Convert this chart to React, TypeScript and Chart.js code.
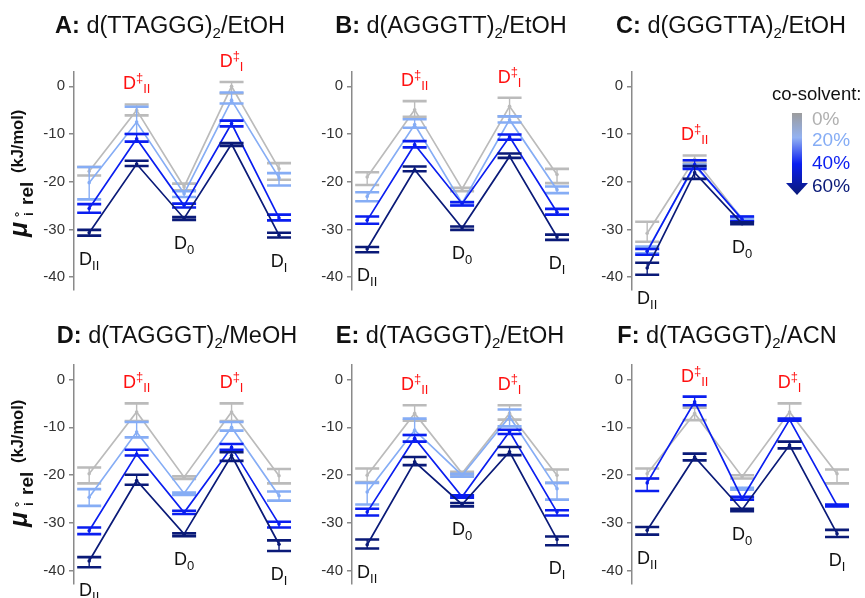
import React, { useEffect, useRef } from 'react';
import { Chart, registerables } from 'chart.js';
Chart.register(...registerables);

const FONT = "'Liberation Sans', Arial, Helvetica, sans-serif";
Chart.defaults.font.family = FONT;

// ---------- data ----------
const SERIES_LABELS = ['0%', '20%', '40%', '60%'];
const SERIES_COLORS = ['#bbbbbb', '#86adf5', '#0a1ef0', '#0a1a78'];
const Y_TICKS = [0, -10, -20, -30, -40];
// states: D_II, D‡_II, D_0, D‡_I, D_I
const STATE_LABELS = [
  { main: 'D', sub: 'II' },
  { main: 'D', sup: '‡', sub: 'II' },
  { main: 'D', sub: '0' },
  { main: 'D', sup: '‡', sub: 'I' },
  { main: 'D', sub: 'I' },
];

const A_MEAN = [
  [-17.8, -5.0, -21.1, 0.0, -17.3],
  [-20.2, -7.5, -22.5, -2.9, -19.2],
  [-25.6, -11.0, -25.0, -7.8, -27.6],
  [-30.7, -16.3, -27.7, -12.1, -31.2],
];
const A_HI = [
  [-16.9, -3.8, -20.4, 0.9, -16.1],
  [-16.9, -4.3, -22.0, -1.3, -18.2],
  [-24.7, -10.0, -24.6, -7.2, -26.9],
  [-30.1, -15.6, -27.4, -11.9, -30.7],
];
const A_LO = [
  [-18.7, -6.1, -21.8, -1.5, -19.6],
  [-23.7, -10.0, -23.2, -3.6, -20.8],
  [-26.5, -11.6, -25.4, -8.4, -28.1],
  [-31.3, -16.7, -28.0, -12.5, -31.7],
];

const B_MEAN = [
  [-19.0, -4.9, -21.5, -4.2, -18.5],
  [-23.1, -8.0, -24.5, -7.0, -21.7],
  [-28.1, -12.2, -24.6, -10.6, -26.4],
  [-34.1, -17.5, -29.7, -14.7, -31.6],
];
const B_HI = [
  [-18.0, -3.1, -21.3, -2.4, -17.3],
  [-22.2, -6.9, -24.2, -6.3, -21.0],
  [-27.3, -11.5, -24.3, -10.1, -25.7],
  [-33.7, -16.8, -29.4, -14.1, -31.1],
];
const B_LO = [
  [-20.7, -6.4, -22.0, -6.3, -20.3],
  [-24.1, -8.7, -24.9, -7.6, -22.4],
  [-28.8, -12.8, -25.0, -11.2, -26.9],
  [-34.8, -17.8, -30.1, -15.0, -32.2],
];

const C_MEAN = [
  [-30.8, -15.3, -27.8],
  [-34.4, -16.7, -27.6],
  [-34.6, -16.4, -27.9],
  [-38.1, -18.1, -28.8],
];
const C_HI = [
  [-28.4, -14.5, -27.5],
  [-33.6, -16.4, -27.3],
  [-34.1, -15.5, -27.3],
  [-37.0, -16.7, -28.5],
];
const C_LO = [
  [-32.6, -16.0, -28.1],
  [-35.0, -17.1, -27.9],
  [-35.3, -17.3, -28.3],
  [-39.5, -19.4, -28.9],
];

const D_MEAN = [
  [-19.7, -6.8, -20.4, -6.8, -20.1],
  [-24.6, -11.0, -23.8, -10.0, -24.3],
  [-31.6, -15.6, -27.8, -14.2, -30.2],
  [-37.9, -21.1, -32.3, -15.9, -34.4],
];
const D_HI = [
  [-18.4, -5.0, -20.2, -5.0, -18.7],
  [-22.9, -8.9, -23.6, -8.9, -23.4],
  [-30.9, -14.7, -27.4, -13.5, -29.7],
  [-37.1, -19.9, -32.1, -15.2, -33.6],
];
const D_LO = [
  [-21.7, -8.7, -20.8, -8.7, -21.7],
  [-26.4, -12.1, -24.1, -10.7, -25.3],
  [-32.3, -15.9, -28.1, -14.7, -30.9],
  [-39.2, -22.0, -32.7, -17.0, -35.8],
];

const E_MEAN = [
  [-20.0, -7.1, -19.6, -7.1, -20.0],
  [-23.5, -10.6, -20.0, -7.8, -22.8],
  [-27.7, -12.3, -24.5, -10.9, -27.7],
  [-34.5, -17.2, -26.1, -15.1, -33.4],
];
const E_HI = [
  [-18.6, -5.4, -19.3, -5.4, -18.8],
  [-21.6, -8.2, -19.7, -6.3, -21.6],
  [-27.0, -11.6, -24.2, -10.5, -27.3],
  [-33.4, -16.2, -25.8, -14.1, -32.8],
];
const E_LO = [
  [-21.4, -8.6, -19.9, -8.4, -21.6],
  [-26.1, -11.6, -20.3, -9.8, -25.1],
  [-28.4, -13.0, -24.7, -11.4, -28.4],
  [-35.3, -17.9, -26.5, -15.8, -34.6],
];

const F_MEAN = [
  [-19.7, -7.1, -20.3, -6.8, -19.7],
  [null, null, -22.8, null, null],
  [-21.6, -4.7, -24.9, -8.4, -26.3],
  [-31.5, -16.2, -27.2, -13.7, -32.2],
];
const F_HI = [
  [-18.6, -5.9, -20.0, -5.0, -18.8],
  [null, null, -22.6, null, null],
  [-20.7, -3.6, -24.5, -8.2, -26.1],
  [-30.8, -15.5, -27.0, -13.0, -31.4],
];
const F_LO = [
  [-20.7, -8.5, -20.7, -8.5, -21.7],
  [null, null, -23.0, null, null],
  [-23.3, -5.4, -25.1, -8.6, -26.5],
  [-32.4, -16.9, -27.5, -14.4, -32.9],
];

// ---------- layout ----------
const W = 865;
const H = 598;
const Y_MIN = -42.7;
const Y_MAX = 3;
const X_MIN = -0.32;
const X_MAX = 4.4;
const AREA_W = 224;
const SCALE_W = 45;
const CAP_HALF = 12;
const ROWS = [
  { top: 72, bottom: 290, titleY: 33, yTitleStart: 237 },
  { top: 365, bottom: 584, titleY: 343, yTitleStart: 527 },
];

type Num = number | null;
type Panel = {
  letter: string; seq: string; solvent: string;
  mean: Num[][]; hi: Num[][]; lo: Num[][];
  axisX: number; row: number; titleX: number; yTitle: boolean; legend: boolean;
};

const PANELS: Panel[] = [
  { letter: 'A:', seq: ' d(TTAGGG)', solvent: '/EtOH', mean: A_MEAN, hi: A_HI, lo: A_LO, axisX: 74, row: 0, titleX: 170, yTitle: true, legend: false },
  { letter: 'B:', seq: ' d(AGGGTT)', solvent: '/EtOH', mean: B_MEAN, hi: B_HI, lo: B_LO, axisX: 352, row: 0, titleX: 451, yTitle: false, legend: false },
  { letter: 'C:', seq: ' d(GGGTTA)', solvent: '/EtOH', mean: C_MEAN, hi: C_HI, lo: C_LO, axisX: 632, row: 0, titleX: 731, yTitle: false, legend: true },
  { letter: 'D:', seq: ' d(TAGGGT)', solvent: '/MeOH', mean: D_MEAN, hi: D_HI, lo: D_LO, axisX: 74, row: 1, titleX: 177, yTitle: true, legend: false },
  { letter: 'E:', seq: ' d(TAGGGT)', solvent: '/EtOH', mean: E_MEAN, hi: E_HI, lo: E_LO, axisX: 352, row: 1, titleX: 450, yTitle: false, legend: false },
  { letter: 'F:', seq: ' d(TAGGGT)', solvent: '/ACN', mean: F_MEAN, hi: F_HI, lo: F_LO, axisX: 632, row: 1, titleX: 727, yTitle: false, legend: false },
];

// ---------- rich text ----------
type Seg = { t: string; size: number; bold?: boolean; italic?: boolean; dy?: number };
const fontOf = (s: Seg) => `${s.italic ? 'italic ' : ''}${s.bold ? 'bold ' : ''}${s.size}px ${FONT}`;

function drawSegs(ctx: CanvasRenderingContext2D, segs: Seg[], x: number, y: number, align: 'left' | 'center', color: string) {
  const widths = segs.map((s) => { ctx.font = fontOf(s); return ctx.measureText(s.t).width; });
  const total = widths.reduce((a, b) => a + b, 0);
  let cx = align === 'center' ? x - total / 2 : x;
  ctx.fillStyle = color;
  ctx.textAlign = 'left';
  ctx.textBaseline = 'alphabetic';
  segs.forEach((s, i) => {
    ctx.font = fontOf(s);
    ctx.fillText(s.t, cx, y + (s.dy || 0));
    cx += widths[i];
  });
}

function drawYTitle(ctx: CanvasRenderingContext2D, startY: number) {
  ctx.save();
  ctx.translate(23, startY);
  ctx.rotate(-Math.PI / 2);
  ctx.fillStyle = '#111';
  ctx.textAlign = 'left';
  ctx.textBaseline = 'alphabetic';
  ctx.font = `italic bold 25px ${FONT}`;
  ctx.fillText('μ', 0, 4);
  ctx.font = `bold 13px ${FONT}`;
  ctx.fillText('°', 20, 1);
  ctx.fillText('i', 21, 10);
  ctx.font = `bold 19px ${FONT}`;
  ctx.fillText('rel', 32, 10);
  ctx.font = `bold 16.5px ${FONT}`;
  ctx.fillText('(kJ/mol)', 64, 0);
  ctx.restore();
}

function makePlugin(p: Panel) {
  return {
    id: 'deco',
    afterDatasetDraw(chart: any, args: any) {
      const s = args.index;
      const ctx: CanvasRenderingContext2D = chart.ctx;
      const xs = chart.scales.x;
      const ys = chart.scales.y;
      const m = p.mean[s];
      ctx.save();
      ctx.strokeStyle = SERIES_COLORS[s];
      ctx.lineCap = 'butt';
      m.forEach((v, i) => {
        const hi = p.hi[s][i];
        const lo = p.lo[s][i];
        if (v == null || hi == null || lo == null) return;
        const x = xs.getPixelForValue(i);
        const yh = ys.getPixelForValue(hi);
        const yl = ys.getPixelForValue(lo);
        ctx.lineWidth = 1.4;
        ctx.beginPath(); ctx.moveTo(x, yh); ctx.lineTo(x, yl); ctx.stroke();
        ctx.lineWidth = 2.6;
        ctx.beginPath();
        ctx.moveTo(x - CAP_HALF, yh); ctx.lineTo(x + CAP_HALF, yh);
        ctx.moveTo(x - CAP_HALF, yl); ctx.lineTo(x + CAP_HALF, yl);
        ctx.stroke();
      });
      ctx.restore();
    },
    afterDraw(chart: any) {
      const ctx: CanvasRenderingContext2D = chart.ctx;
      const xs = chart.scales.x;
      const ys = chart.scales.y;
      const row = ROWS[p.row];
      ctx.save();
      // title
      drawSegs(ctx, [
        { t: p.letter, size: 23.5, bold: true },
        { t: p.seq, size: 23.5 },
        { t: '2', size: 15, dy: 5 },
        { t: p.solvent, size: 23.5 },
      ], p.titleX, row.titleY, 'center', '#111');

      // state labels
      const n = p.mean[0].length;
      for (let i = 0; i < n; i++) {
        let maxHi = -Infinity;
        let minLo = Infinity;
        for (let s = 0; s < p.mean.length; s++) {
          const h = p.hi[s][i]; const l = p.lo[s][i];
          if (h != null) maxHi = Math.max(maxHi, h);
          if (l != null) minLo = Math.min(minLo, l);
        }
        const lab = STATE_LABELS[i];
        const x = xs.getPixelForValue(i);
        if (lab.sup) {
          const yb = ys.getPixelForValue(maxHi) - 15;
          drawSegs(ctx, [
            { t: lab.main, size: 18 },
            { t: lab.sup, size: 13, dy: -7 },
            { t: lab.sub, size: 13, dy: 4 },
          ], x, yb, 'center', '#ff1010');
        } else {
          const yb = ys.getPixelForValue(minLo) + 29;
          drawSegs(ctx, [
            { t: lab.main, size: 18 },
            { t: lab.sub, size: 13, dy: 5 },
          ], x, yb, 'center', '#111');
        }
      }

      // y-axis title
      if (p.yTitle) drawYTitle(ctx, row.yTitleStart);

      // legend
      if (p.legend) {
        ctx.font = `18.5px ${FONT}`;
        ctx.fillStyle = '#111';
        ctx.textAlign = 'left';
        ctx.textBaseline = 'alphabetic';
        ctx.fillText('co-solvent:', 772, 100);
        const g = ctx.createLinearGradient(0, 113, 0, 195);
        g.addColorStop(0, '#9c9c9c');
        g.addColorStop(0.3, '#93b2f2');
        g.addColorStop(0.62, '#0a1ef0');
        g.addColorStop(1, '#0a1a78');
        ctx.fillStyle = g;
        ctx.fillRect(792, 113, 10, 71);
        ctx.beginPath();
        ctx.moveTo(786, 183); ctx.lineTo(808, 183); ctx.lineTo(797, 195); ctx.closePath();
        ctx.fill();
        const ys2 = [125, 146, 169, 192];
        SERIES_LABELS.forEach((t, i) => {
          ctx.font = `19px ${FONT}`;
          ctx.fillStyle = i === 0 ? '#b0b0b0' : SERIES_COLORS[i];
          ctx.fillText(t, 812, ys2[i]);
        });
      }
      ctx.restore();
    },
  };
}

function PanelChart({ p }: { p: Panel }) {
  const ref = useRef<HTMLCanvasElement | null>(null);
  useEffect(() => {
    if (!ref.current) return;
    const row = ROWS[p.row];
    const datasets = p.mean.map((m, s) => ({
      label: SERIES_LABELS[s],
      data: m.map((v, i) => ({ x: i, y: v })),
      borderColor: SERIES_COLORS[s],
      backgroundColor: SERIES_COLORS[s],
      pointBackgroundColor: SERIES_COLORS[s],
      borderWidth: 1.7,
      pointRadius: 1.8,
      pointBorderWidth: 0,
      tension: 0,
      spanGaps: false,
      clip: false as any,
      order: 3 - s,
    }));
    const chart = new Chart(ref.current, {
      type: 'line',
      data: { datasets },
      options: {
        responsive: false,
        animation: false,
        events: [],
        layout: {
          padding: {
            left: p.axisX - SCALE_W,
            right: W - p.axisX - AREA_W,
            top: row.top,
            bottom: H - row.bottom,
          },
        },
        plugins: { legend: { display: false }, tooltip: { enabled: false } },
        scales: {
          x: { type: 'linear', min: X_MIN, max: X_MAX, display: false },
          y: {
            type: 'linear',
            min: Y_MIN,
            max: Y_MAX,
            afterFit: (s: any) => { s.width = SCALE_W; },
            afterBuildTicks: (s: any) => { s.ticks = [...Y_TICKS].sort((a, b) => a - b).map((v) => ({ value: v })); },
            ticks: {
              autoSkip: false,
              callback: (v: any) => String(v),
              font: { family: FONT, size: 15 },
              color: '#333',
              padding: 4,
            },
            grid: { drawOnChartArea: false, drawTicks: true, tickLength: 5, color: '#8a8a8a', lineWidth: 1.5 },
            border: { display: true, color: '#8a8a8a', width: 1.5 },
          },
        },
      } as any,
      plugins: [makePlugin(p)],
    });
    return () => chart.destroy();
  }, [p]);
  return (
    <canvas
      ref={ref}
      width={W}
      height={H}
      style={{ position: 'absolute', left: 0, top: 0, width: W, height: H }}
    />
  );
}

export default function App() {
  return (
    <div style={{ position: 'fixed', left: 0, top: 0, width: W, height: H, background: '#fff', overflow: 'hidden' }}>
      {PANELS.map((p, i) => (
        <PanelChart key={i} p={p} />
      ))}
    </div>
  );
}
